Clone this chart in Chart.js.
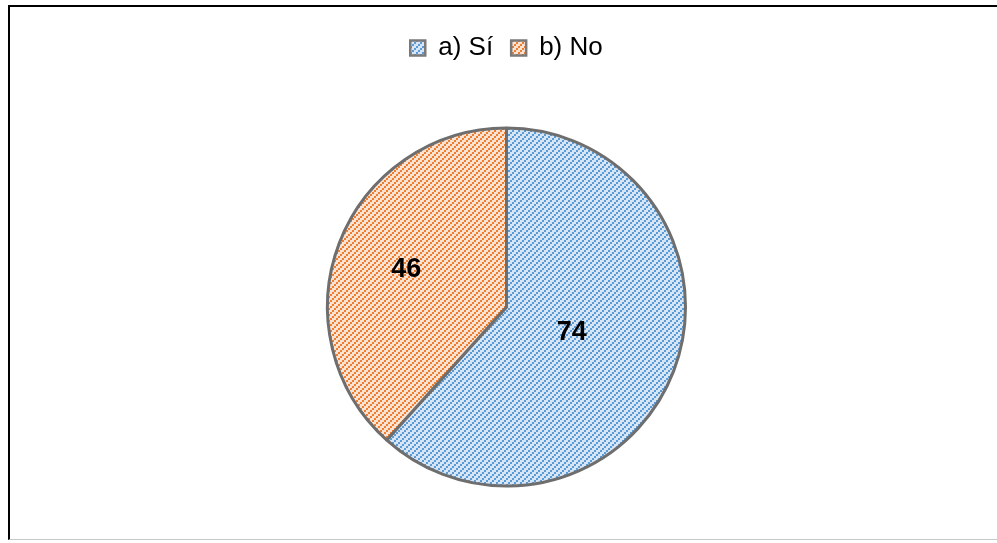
<!DOCTYPE html>
<html>
<head>
<meta charset="utf-8">
<script src="https://cdn.jsdelivr.net/npm/chart.js@4/dist/chart.umd.min.js"></script>
<style>
  html, body { margin: 0; padding: 0; background: #fff; overflow: hidden; }
  #wrap { position: absolute; left: 0; top: 0; width: 997px; height: 543px; }
  #frame { position: absolute; left: 8px; top: 5px; width: 1000px; height: 535px;
           border-top: 2px solid #000; border-left: 2px solid #000; border-bottom: 1px solid #c8c8c8; box-sizing: border-box; }
  canvas { position: absolute; left: 0; top: 0; }
</style>
</head>
<body>
<div id="wrap">
  <div id="frame"></div>
  <canvas id="c" width="997" height="543"></canvas>
</div>
<script>
const categories = ['a) Sí', 'b) No'];
const values = [74, 46];
const stripeColors = ['#5b9bd5', '#ed7d31'];
const backColors = ['#d6e6f7', '#fce2d0'];

function hatch(fg, bg) {
  const t = document.createElement('canvas');
  t.width = 6; t.height = 6;
  const g = t.getContext('2d');
  g.fillStyle = bg; g.fillRect(0, 0, 6, 6);
  g.fillStyle = fg;
  for (let bx = 0; bx < 3; bx++) {
    for (let by = 0; by < 3; by++) {
      if ((bx + by) % 3 === 0) g.fillRect(bx * 2, by * 2, 2, 2);
    }
  }
  return document.getElementById('c').getContext('2d').createPattern(t, 'repeat');
}
const patterns = categories.map((_, i) => hatch(stripeColors[i], backColors[i]));

const labelPlugin = {
  id: 'sliceLabels',
  afterDatasetsDraw(chart, args, opts) {
    const ctx = chart.ctx;
    const meta = chart.getDatasetMeta(0);
    ctx.save();
    ctx.font = 'bold 27px "Liberation Sans", Arial, sans-serif';
    ctx.fillStyle = '#000';
    ctx.textAlign = 'center';
    ctx.textBaseline = 'middle';
    meta.data.forEach((arc, i) => {
      const p = arc.getProps(['x', 'y', 'startAngle', 'endAngle', 'outerRadius'], true);
      const mid = (p.startAngle + p.endAngle) / 2;
      const r = p.outerRadius * opts.radius[i];
      ctx.fillText(String(chart.data.datasets[0].data[i]), p.x + Math.cos(mid) * r, p.y + Math.sin(mid) * r + 1);
    });
    ctx.restore();
  }
};

new Chart(document.getElementById('c'), {
  type: 'pie',
  data: {
    labels: categories,
    datasets: [{
      data: values,
      backgroundColor: patterns,
      borderColor: '#6e6e6e',
      borderWidth: 3,
      hoverOffset: 0
    }]
  },
  options: {
    responsive: false,
    animation: false,
    events: [],
    layout: { padding: { top: 17, bottom: 0, left: 326, right: 310 } },
    plugins: {
      tooltip: { enabled: false },
      sliceLabels: { radius: [0.39, 0.6] },
      legend: {
        position: 'top',
        labels: {
          color: '#000',
          font: { family: '"Liberation Sans", Arial, sans-serif', size: 26 },
          boxWidth: 15,
          boxHeight: 15,
          padding: 18,
          generateLabels(chart) {
            return chart.data.labels.map((l, i) => ({
              text: l,
              fillStyle: patterns[i],
              strokeStyle: '#7a7a7a',
              lineWidth: 2.5,
              index: i,
              hidden: false
            }));
          }
        }
      }
    }
  },
  plugins: [labelPlugin]
});
</script>
</body>
</html>
